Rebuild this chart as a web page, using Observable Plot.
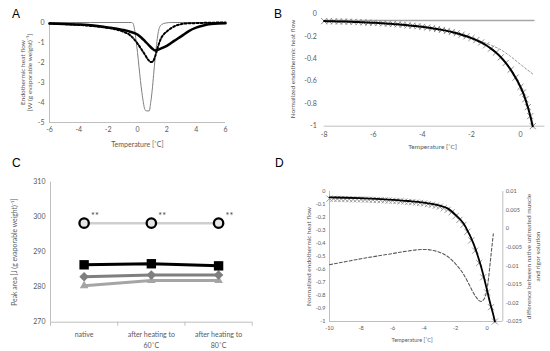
<!DOCTYPE html>
<html><head><meta charset="utf-8">
<script src="https://cdn.jsdelivr.net/npm/d3@7"></script>
<script src="https://cdn.jsdelivr.net/npm/@observablehq/plot@0.6"></script>
<style>
body{margin:0;background:#fff;}
#fig{position:relative;width:550px;height:351px;overflow:hidden;font-family:Lato,"Liberation Sans",Arial,sans-serif;}
.letter{position:absolute;font-size:12px;line-height:12px;color:#000;font-family:"Liberation Sans",Arial,sans-serif;}
</style></head><body><div id="fig"></div>
<script>
// ---------- Panel A data ----------
const aBoldT = [-6,-5,-4,-3,-2,-1.5,-1,-0.5,0,0.25,0.5,0.75,1,1.2,1.5,2,2.5,3,3.5,4,4.5,5,5.5,6];
const aBoldV = [-0.05,-0.07,-0.1,-0.15,-0.25,-0.3,-0.37,-0.46,-0.6,-0.75,-0.93,-1.12,-1.3,-1.4,-1.33,-1.17,-0.92,-0.68,-0.43,-0.26,-0.15,-0.08,-0.05,-0.04];
const aDotT = [-6,-5,-4,-3,-2,-1.5,-1,-0.5,-0.25,0,0.25,0.5,0.75,0.9,1.05,1.2,1.4,1.6,1.8,2,2.3,2.6,3,3.5,4,5,6];
const aDotV = [-0.05,-0.08,-0.12,-0.18,-0.27,-0.34,-0.45,-0.64,-0.82,-1.05,-1.32,-1.6,-1.88,-1.98,-1.95,-1.7,-1.2,-0.8,-0.58,-0.45,-0.28,-0.16,-0.08,-0.04,-0.03,-0.01,0];
const aThinT = [-6,-0.4,-0.3,-0.2,-0.1,0,0.1,0.2,0.3,0.4,0.5,0.6,0.8,0.9,1,1.1,1.2,1.3,1.4,1.5,1.65,1.9,2.3,6];
const aThinV = [0,0,-0.05,-0.35,-0.9,-1.5,-2.2,-2.9,-3.5,-4.0,-4.35,-4.42,-4.42,-4.0,-3.4,-2.6,-1.8,-1.1,-0.55,-0.25,-0.1,-0.03,0,0];
const aXTicks = [-6,-4,-2,0,2,4,6];
const aYTicks = [0,-1,-2,-3,-4,-5];

// ---------- Panel B data ----------
const bT = [-8,-7.8,-7.6,-7.4,-7.2,-7,-6.8,-6.6,-6.4,-6.2,-6,-5.8,-5.6,-5.4,-5.2,-5,-4.8,-4.6,-4.4,-4.2,-4,-3.8,-3.6,-3.4,-3.2,-3,-2.8,-2.6,-2.4,-2.2,-2,-1.8,-1.6,-1.4,-1.2,-1,-0.8,-0.6,-0.4,-0.2,0,0.1,0.2,0.3,0.4,0.5];
const bV = [-0.065,-0.066,-0.067,-0.068,-0.069,-0.070,-0.072,-0.074,-0.076,-0.078,-0.080,-0.082,-0.085,-0.088,-0.091,-0.094,-0.098,-0.102,-0.106,-0.111,-0.116,-0.122,-0.128,-0.135,-0.143,-0.152,-0.162,-0.173,-0.186,-0.200,-0.216,-0.234,-0.255,-0.280,-0.310,-0.345,-0.387,-0.437,-0.497,-0.568,-0.650,-0.70,-0.76,-0.83,-0.91,-1.0];
const bDashT = [-2.4,-2,-1.6,-1.2,-0.8,-0.4,0,0.5];
const bDashV = [-0.186,-0.214,-0.245,-0.28,-0.32,-0.38,-0.45,-0.535];
const bFlatT = [-8,0.55];
const bFlatV = [-0.06,-0.06];
const bXTicks = [-8,-6,-4,-2,0];
const bYTicks = [0,-0.2,-0.4,-0.6,-0.8,-1];

// ---------- Panel C data ----------
const cCats = ["native","after heating to\n60˚C","after heating to\n80˚C"];
const cCircle = [298.3,298.3,298.3];
const cSquare = [286.4,286.7,286.1];
const cDiamond = [283.0,283.5,283.5];
const cTriangle = [280.4,281.9,281.9];
const cYTicks = [270,280,290,300,310];

// ---------- Panel D data ----------
const dT = [-10,-9,-8,-7,-6,-5,-4,-3.5,-3,-2.5,-2,-1.5,-1.2,-1,-0.8,-0.6,-0.4,-0.2,0,0.2,0.4,0.5];
const dV = [-0.045,-0.048,-0.052,-0.057,-0.064,-0.073,-0.086,-0.096,-0.109,-0.13,-0.18,-0.245,-0.31,-0.36,-0.42,-0.49,-0.57,-0.66,-0.76,-0.86,-0.95,-1.0];
const dMkT = [-10,-9.75,-9.5,-9.25,-9,-8.75,-8.5,-8.25,-8,-7.75,-7.5,-7.25,-7,-6.75,-6.5,-6.25,-6,-5.75,-5.5,-5.25,-5,-4.75,-4.5,-4.25,-4,-3.75,-3.5,-3.25,-3,-2.75,-2.5,-2.25,-2,-1.75,-1.5,-1.25,-1,-0.75,-0.5,-0.25,0,0.25,0.5];
const dMkV = [-0.055,-0.056,-0.057,-0.058,-0.058,-0.059,-0.060,-0.060,-0.061,-0.062,-0.063,-0.064,-0.065,-0.067,-0.068,-0.070,-0.071,-0.073,-0.075,-0.077,-0.080,-0.082,-0.085,-0.088,-0.092,-0.097,-0.102,-0.109,-0.117,-0.128,-0.141,-0.160,-0.19,-0.218,-0.257,-0.31,-0.376,-0.455,-0.55,-0.66,-0.776,-0.89,-1.0];
const dDiffT = [-10,-9,-8,-7,-6,-5,-4,-3.5,-3,-2.5,-2,-1.5,-1.2,-1,-0.7,-0.4,-0.2,0,0.1,0.2,0.3,0.4];
const dDiffV = [-0.0097,-0.0089,-0.0081,-0.0074,-0.0067,-0.0060,-0.0056,-0.0058,-0.0064,-0.0075,-0.0095,-0.0122,-0.0145,-0.0162,-0.0184,-0.0196,-0.0190,-0.0163,-0.0132,-0.0092,-0.0052,-0.0014];
const dXTicks = [-10,-8,-6,-4,-2,0];
const dYTicks = [0,-0.1,-0.2,-0.3,-0.4,-0.5,-0.6,-0.7,-0.8,-0.9,-1];
const dRTicks = [0.01,0.005,0,-0.005,-0.01,-0.015,-0.02,-0.025];

// ---------- helpers ----------
const FONT = "Lato, 'Liberation Sans', Arial, sans-serif";
const GRAY_TXT = "#595959", AXIS = "#bfbfbf";
const zip = (T, V) => T.map((t, i) => ({t, v: V[i]}));
const fmt = d => String(d);
const fig = document.getElementById("fig");
function place(svg, left, top) {
  svg.style.position = "absolute"; svg.style.left = left + "px"; svg.style.top = top + "px";
  fig.appendChild(svg);
}
function letter(txt, left, top) {
  const el = document.createElement("div"); el.className = "letter"; el.textContent = txt;
  el.style.left = left + "px"; el.style.top = top + "px"; fig.appendChild(el);
}
const baseStyle = {background: "transparent", fontFamily: FONT, color: GRAY_TXT, overflow: "visible"};
const T = {textAnchor: "middle", lineAnchor: "middle", fill: GRAY_TXT};

// ---------- Panel A ----------
place(Plot.plot({
  width: 275, height: 175, marginLeft: 49, marginRight: 50, marginTop: 22, marginBottom: 53,
  style: {...baseStyle, fontSize: "7px"},
  x: {domain: [-6, 6]}, y: {domain: [-5, 0]},
  marks: [
    Plot.ruleX([-6], {stroke: AXIS}),
    Plot.ruleY([-5], {stroke: AXIS}),
    Plot.axisX({ticks: aXTicks, tickSize: 0, tickPadding: 5, tickFormat: fmt, label: null, fontSize: 7}),
    Plot.axisY({ticks: aYTicks, tickSize: 0, tickPadding: 5, tickFormat: fmt, label: null, fontSize: 7}),
    Plot.line(zip(aThinT, aThinV), {x: "t", y: "v", stroke: "#7f7f7f", strokeWidth: 1, curve: "monotone-x"}),
    Plot.line(zip(aDotT, aDotV), {x: "t", y: "v", stroke: "#000", strokeWidth: 2, strokeDasharray: "2,2", curve: "monotone-x"}),
    Plot.line(zip(aBoldT, aBoldV), {x: "t", y: "v", stroke: "#000", strokeWidth: 2.5, curve: "monotone-x"}),
    Plot.text(["Temperature [˚C]"], {...T, text: d => d, frameAnchor: "bottom", dy: 22, fontSize: 7}),
    Plot.text(["Endothermic heat flow\n[W (g evaporable weight)⁻¹]"], {...T, text: d => d, frameAnchor: "left", dx: -23, rotate: -90, fontSize: 6.5, lineHeight: 1.05})
  ]
}), 0, 0);

// ---------- Panel B ----------
place(Plot.plot({
  width: 275, height: 175, marginLeft: 48.7, marginRight: 5.5, marginTop: 13.3, marginBottom: 49.3,
  style: {...baseStyle, fontSize: "7px"},
  x: {domain: [-8, 1]}, y: {domain: [-1, 0]},
  marks: [
    Plot.ruleY([-1], {stroke: AXIS}),
    Plot.axisX({ticks: bXTicks, tickSize: 0, tickPadding: 6, tickFormat: fmt, label: null, fontSize: 7}),
    Plot.axisY({ticks: bYTicks, tickSize: 0, tickPadding: 7.5, tickFormat: fmt, label: null, fontSize: 7}),
    Plot.line(zip(bFlatT, bFlatV), {x: "t", y: "v", stroke: "#a6a6a6", strokeWidth: 1.5}),
    Plot.line(zip(bDashT, bDashV), {x: "t", y: "v", stroke: "#999", strokeWidth: 1, strokeDasharray: "2,2", curve: "monotone-x"}),
    Plot.dot(zip(bT, bV), {x: "t", y: "v", symbol: "times", stroke: "#8c8c8c", r: 2.9, strokeWidth: 1}),
    Plot.line(zip(bT, bV), {x: "t", y: "v", stroke: "#000", strokeWidth: 2, curve: "monotone-x"}),
    Plot.text(["Temperature [˚C]"], {...T, text: d => d, frameAnchor: "bottom", dy: 21, dx: -2, fontSize: 6.5}),
    Plot.text(["Normalized endothermic heat flow"], {...T, text: d => d, frameAnchor: "left", dx: -31.4, dy: -1, rotate: -90, fontSize: 6.5})
  ]
}), 275, 0);

// ---------- Panel C ----------
const cIdx = cCats.map((c, i) => i);
const cData = (V) => cIdx.map(i => ({i, v: V[i]}));
place(Plot.plot({
  width: 275, height: 176, marginLeft: 50, marginRight: 23.3, marginTop: 6.7, marginBottom: 29.3,
  style: {...baseStyle, fontSize: "7px"},
  x: {domain: [-0.5, 2.5]}, y: {domain: [270, 310]},
  marks: [
    Plot.ruleX([-0.5], {stroke: AXIS}),
    Plot.ruleY([270], {stroke: AXIS}),
    Plot.axisX({ticks: [-0.5, 0.5, 1.5, 2.5], tickSize: 4, stroke: AXIS, tickFormat: () => "", label: null}),
    Plot.axisX({ticks: cIdx, tickSize: 0, tickPadding: 8, tickFormat: i => cCats[i], label: null, fontSize: 7, lineHeight: 1.45}),
    Plot.axisY({ticks: cYTicks, tickSize: 0, tickPadding: 5, tickFormat: fmt, label: null, fontSize: 7}),
    Plot.line(cData(cTriangle), {x: "i", y: "v", stroke: "#a5a5a5", strokeWidth: 3}),
    Plot.dot(cData(cTriangle), {x: "i", y: "v", symbol: "triangle", fill: "#a5a5a5", r: 3.2}),
    Plot.line(cData(cDiamond), {x: "i", y: "v", stroke: "#7f7f7f", strokeWidth: 3}),
    Plot.dot(cData(cDiamond), {x: "i", y: "v", symbol: "diamond2", fill: "#7f7f7f", r: 4.3}),
    Plot.line(cData(cSquare), {x: "i", y: "v", stroke: "#000", strokeWidth: 3}),
    Plot.dot(cData(cSquare), {x: "i", y: "v", symbol: "square", fill: "#000", r: 5.3}),
    Plot.line(cData(cCircle), {x: "i", y: "v", stroke: "#cfcfcf", strokeWidth: 2.5}),
    Plot.dot(cData(cCircle), {x: "i", y: "v", symbol: "circle", fill: "#e6e6e6", stroke: "#000", strokeWidth: 2.3, r: 4.7}),
    Plot.text(cData(cCircle), {x: "i", y: "v", text: () => "**", dx: 7, dy: -7, textAnchor: "start", fontSize: 9, fill: "#404040"}),
    Plot.text(["Peak area [J (g evaporable weight)⁻¹]"], {...T, text: d => d, frameAnchor: "left", dx: -36, rotate: -90, fontSize: 6.8})
  ]
}), 0, 175);

// ---------- Panel D ----------
const yr = r => (r + 0.025) / 0.035 - 1;  // secondary axis -> primary scale
const yrInv = d => Math.round(((d + 1) * 0.035 - 0.025) * 1000) / 1000;
place(Plot.plot({
  width: 275, height: 176, marginLeft: 54, marginRight: 47.7, marginTop: 16, marginBottom: 30,
  style: {...baseStyle, fontSize: "5.5px"},
  x: {domain: [-10, 1]}, y: {domain: [-1, 0]},
  marks: [
    Plot.ruleX([-10, 1], {stroke: AXIS}),
    Plot.ruleY([-1], {stroke: AXIS}),
    Plot.axisX({ticks: dXTicks, tickSize: 0, tickPadding: 5, tickFormat: fmt, label: null, fontSize: 5.5}),
    Plot.axisY({ticks: dYTicks, tickSize: 0, tickPadding: 4, tickFormat: fmt, label: null, fontSize: 5.5}),
    Plot.axisY({anchor: "right", ticks: dRTicks.map(yr), tickSize: 0, tickPadding: 3, tickFormat: d => String(yrInv(d)), label: null, fontSize: 5.5}),
    Plot.line(zip(dDiffT, dDiffV), {x: "t", y: d => yr(d.v), stroke: "#595959", strokeWidth: 1.1, strokeDasharray: "3,2", curve: "monotone-x"}),
    Plot.dot(zip(dMkT, dMkV), {x: "t", y: "v", symbol: "times", stroke: "#999", r: 2.9, strokeWidth: 1}),
    Plot.line(zip(dT, dV), {x: "t", y: "v", stroke: "#000", strokeWidth: 1.8, curve: "monotone-x"}),
    Plot.text(["Temperature [˚C]"], {...T, text: d => d, frameAnchor: "bottom", dy: 18.5, dx: -4, fontSize: 5.5}),
    Plot.text(["Normalized endothermic heat flow"], {...T, text: d => d, frameAnchor: "left", dx: -21, rotate: -90, fontSize: 6.5}),
    Plot.text(["difference between native untreated muscle\nand rigor solution"], {...T, text: d => d, frameAnchor: "right", dx: 30, rotate: -90, fontSize: 6.5, lineHeight: 1.35})
  ]
}), 275, 175);

letter("A", 12, 8);
letter("B", 274, 8);
letter("C", 12, 157);
letter("D", 275, 157);
</script></body></html>
